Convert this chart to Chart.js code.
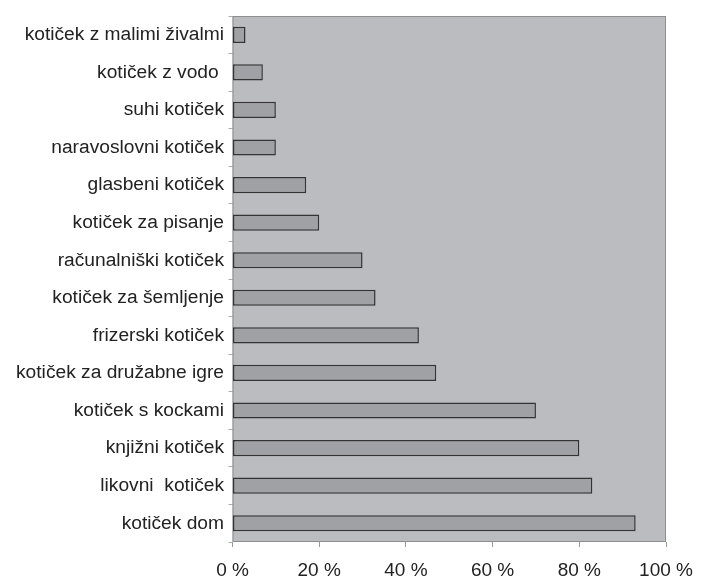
<!DOCTYPE html>
<html>
<head>
<meta charset="utf-8">
<script src="https://cdn.jsdelivr.net/npm/chart.js@4/dist/chart.umd.min.js"></script>
<style>
html,body{margin:0;padding:0;background:#fff;}
#wrap{width:713px;height:579px;position:relative;}
</style>
</head>
<body>
<div id="wrap"><canvas id="c" width="713" height="579"></canvas></div>
<script>
const categories = [
  'kotiček z malimi živalmi',
  'kotiček z vodo ',
  'suhi kotiček',
  'naravoslovni kotiček',
  'glasbeni kotiček',
  'kotiček za pisanje',
  'računalniški kotiček',
  'kotiček za šemljenje',
  'frizerski kotiček',
  'kotiček za družabne igre',
  'kotiček s kockami',
  'knjižni kotiček',
  'likovni  kotiček',
  'kotiček dom'
];
const values = [3, 7, 10, 10, 17, 20, 30, 33, 43, 47, 70, 80, 83, 93];
const xTicks = [0, 20, 40, 60, 80, 100];

const plotBg = {
  id: 'plotBg',
  beforeDatasetsDraw(chart) {
    const a = chart.chartArea, ctx = chart.ctx;
    ctx.save();
    ctx.fillStyle = '#bbbcc0';
    ctx.fillRect(a.left, a.top, a.right - a.left, a.bottom - a.top);
    ctx.strokeStyle = '#8e8e8e';
    ctx.lineWidth = 1;
    ctx.strokeRect(a.left + 0.5, a.top + 0.5, a.right - a.left - 1, a.bottom - a.top - 1);
    ctx.restore();
  }
};

new Chart(document.getElementById('c'), {
  type: 'bar',
  data: {
    labels: categories,
    datasets: [{
      data: values,
      backgroundColor: '#a0a1a5',
      borderColor: '#333333',
      borderWidth: 1.5,
      borderSkipped: false,
      barPercentage: 0.43,
      categoryPercentage: 1
    }]
  },
  options: {
    indexAxis: 'y',
    responsive: false,
    animation: false,
    devicePixelRatio: 1,
    layout: { padding: { top: 13, right: 47, left: 0, bottom: 0 } },
    plugins: { legend: { display: false }, tooltip: { enabled: false } },
    scales: {
      x: {
        min: 0, max: 100,
        afterBuildTicks(s) { s.ticks = xTicks.map(v => ({ value: v })); },
        afterFit(s) { s.height = 37; },
        ticks: {
          callback: v => v + ' %',
          color: '#222',
          font: { family: 'Liberation Sans, Arial, sans-serif', size: 19 },
          padding: 12,
          maxRotation: 0
        },
        grid: { drawOnChartArea: false, tickLength: 5, color: '#999' },
        border: { display: false }
      },
      y: {
        afterFit(s) { s.width = 232.5; },
        ticks: {
          color: '#222',
          font: { family: 'Liberation Sans, Arial, sans-serif', size: 19.2 },
          padding: 4.5,
          autoSkip: false
        },
        grid: { drawOnChartArea: false, tickLength: 4, color: '#aaa', offset: true },
        border: { display: false }
      }
    }
  },
  plugins: [plotBg]
});
</script>
</body>
</html>
